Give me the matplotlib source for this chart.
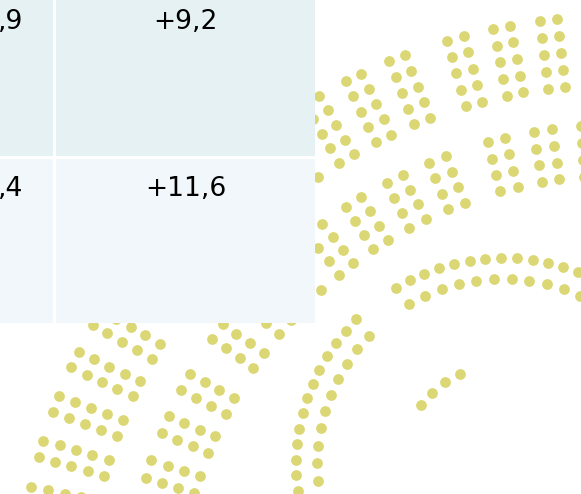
import numpy as np
import matplotlib
matplotlib.use("Agg")
import matplotlib.pyplot as plt
from matplotlib.patches import Rectangle

# %%
# table cells visible in the crop (the left column is cut off by the edge)
col_left = [",9", ",4"]
col_right = ["+9,2", "+11,6"]

# seats of the hall, counted from the picture
band1_blocks = [4, 8, 6]      # back band, blocks per section (2 x 5 seats)
band2_blocks = [3, 7, 4]      # middle band, blocks per section (2 x 4 seats)
front_outer = [13, 13]        # front rows, seats per segment
front_inner = [11, 10]
front_bench = [4]

# %%
W, H = 581, 494
hall_c = np.array([618.0, 617.0])
front_c = np.array([503.0, 465.0])
seat_color = "#dbd775"
row_colors = ["#e6f1f4", "#f1f7fa"]


def unit(a):
    a = np.radians(a)
    return np.array([-np.sin(a), -np.cos(a)]), np.array([-np.cos(a), np.sin(a)])


def band_seats(blocks, starts, pitch, r_out, rows, step_r, step_t):
    pts = []
    r_mid = r_out - (rows - 1) / 2 * step_r
    for n, a0 in zip(blocks, starts):
        for k in range(n):
            u, t = unit(a0 + k * pitch)
            c = hall_c + r_mid * u
            for i in range(rows):
                for j in (-0.5, 0.5):
                    pts.append(c + (r_out - i * step_r - r_mid) * u + j * step_t * t)
    return pts


def arc_seats(counts, spans, r):
    pts = []
    for n, (a0, a1) in zip(counts, spans):
        for a in np.linspace(a0, a1, n):
            u, _ = unit(a)
            pts.append(front_c + r * u)
    return pts


seats = []
seats += band_seats(band1_blocks, [2.05, 21.55, 60.1], 4.55, 601, 5, 17, 17)
seats += band_seats(band2_blocks, [3.3, 21.5, 61.5], 5.5, 492, 4, 16.8, 18)
seats += arc_seats(front_outer, [(31.1, -21.3), (45.2, 97.2)], 207)
seats += arc_seats(front_inner, [(30.2, -24.6), (46.1, 94.9)], 186)
seats += arc_seats(front_bench, [(53.8, 25.3)], 101)
seats = np.array(seats)

# %%
fig = plt.figure(figsize=(W / 100, H / 100), dpi=100)
ax = fig.add_axes([0, 0, 1, 1])
ax.set_xlim(0, W)
ax.set_ylim(H, 0)
ax.axis("off")

ax.scatter(seats[:, 0], seats[:, 1], s=60, color=seat_color, linewidths=0, zorder=1)

row_top, row_h, gap = -8.1, 164.4, 2.7
col_x = [(-205, 53.3), (56.3, 314.7)]
# white table background so the cell gaps hide the seats too
ax.add_patch(Rectangle((-210, -20), 314.7 + 210, row_top + 2 * row_h + gap + 20,
                       facecolor="white", edgecolor="none", zorder=2))
for r in range(2):
    y0 = row_top + r * (row_h + gap)
    for x0, x1 in col_x:
        ax.add_patch(Rectangle((x0, y0), x1 - x0, row_h, facecolor=row_colors[r],
                               edgecolor="none", zorder=2.5))
    base = y0 + 37.4
    ax.text(23, base, col_left[r], ha="right", va="baseline", fontsize=19.1,
            family="DejaVu Sans", color="black", zorder=3)
    ax.text(185.5, base, col_right[r], ha="center", va="baseline", fontsize=19.1,
            family="DejaVu Sans", color="black", zorder=3)

fig.savefig("out.png", dpi=100)
